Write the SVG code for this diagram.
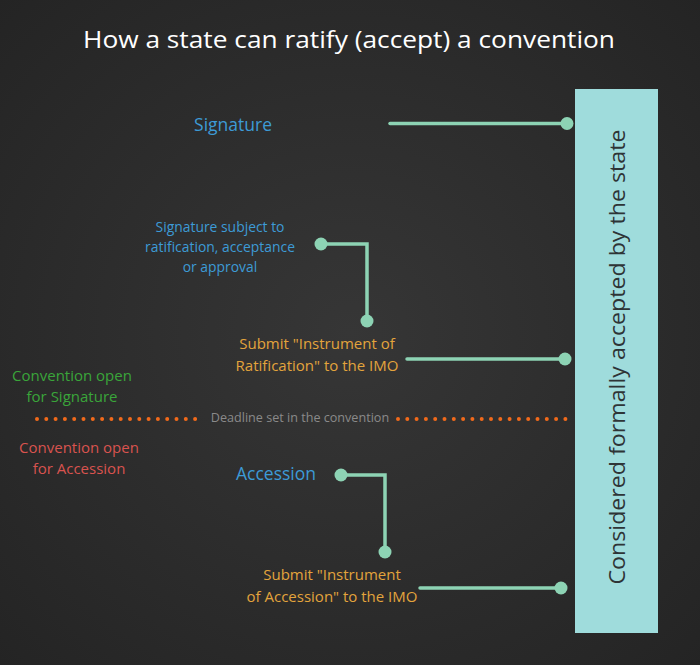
<svg xmlns="http://www.w3.org/2000/svg" width="700" height="665" viewBox="0 0 700 665">
<defs>
<radialGradient id="bg" cx="50%" cy="50%" r="75%">
<stop offset="0" stop-color="#363636"/>
<stop offset="1" stop-color="#232323"/>
</radialGradient>
<style>
text{font-family:"Open Sans","Liberation Sans",sans-serif;text-anchor:middle}
.title{font-size:24px;fill:#ffffff}
.blue{fill:#3d9bd6}
.orange{fill:#e3a43c}
.green{fill:#3aa53a}
.red{fill:#d9534f}
.grey{fill:#8a8a8a;font-size:12.6px}
.conn{stroke:#8dd3b4;stroke-width:3.5;fill:none;stroke-linecap:round}
.dot{fill:#8dd3b4}
.dl{stroke:#f26a1b;stroke-width:4;stroke-linecap:round;stroke-dasharray:0 9.3;fill:none}
</style>
</defs>
<rect width="700" height="665" fill="url(#bg)"/>
<text class="title" x="349" y="48" textLength="532" lengthAdjust="spacingAndGlyphs">How a state can ratify (accept) a convention</text>

<g id="accepted">
<rect x="575" y="89" width="83" height="544" fill="#9fdcdc"/>
<text x="0" y="0" transform="translate(625 357) rotate(-90)" style="font-size:22px;fill:#2e3436" textLength="455" lengthAdjust="spacingAndGlyphs">Considered formally accepted by the state</text>
</g>

<g id="signature"><text class="blue" x="233" y="131" style="font-size:17.5px">Signature</text></g>
<g id="sig-subject"><text class="blue" style="font-size:13.9px"><tspan x="220" y="232">Signature subject to</tspan><tspan x="220" y="252">ratification, acceptance</tspan><tspan x="220" y="272">or approval</tspan></text></g>
<g id="submit-ratification"><text class="orange" style="font-size:15px"><tspan x="317" y="349">Submit "Instrument of</tspan><tspan x="317" y="371">Ratification" to the IMO</tspan></text></g>
<g id="open-signature"><text class="green" style="font-size:15px"><tspan x="72" y="381">Convention open</tspan><tspan x="72" y="402">for Signature</tspan></text></g>
<g id="deadline"><text class="grey" x="300" y="422">Deadline set in the convention</text></g>
<g id="open-accession"><text class="red" style="font-size:15px"><tspan x="79" y="453">Convention open</tspan><tspan x="79" y="474">for Accession</tspan></text></g>
<g id="accession"><text class="blue" x="276" y="480" style="font-size:17.5px">Accession</text></g>
<g id="submit-accession"><text class="orange" style="font-size:15px"><tspan x="332" y="580">Submit "Instrument</tspan><tspan x="332" y="602">of Accession" to the IMO</tspan></text></g>

<g id="connectors">
<path class="conn" d="M390 123.5H567"/>
<circle class="dot" cx="567" cy="123.5" r="6.5"/>
<path class="conn" d="M321 244H367V321"/>
<circle class="dot" cx="321" cy="244" r="6.5"/>
<circle class="dot" cx="367" cy="321" r="6.5"/>
<path class="conn" d="M407 359H565"/>
<circle class="dot" cx="565" cy="359" r="6.5"/>
<path class="conn" d="M341 475H385V552"/>
<circle class="dot" cx="341" cy="475" r="6.5"/>
<circle class="dot" cx="385" cy="552" r="6.5"/>
<path class="conn" d="M420 588H561"/>
<circle class="dot" cx="561" cy="588" r="6.5"/>
<path class="dl" d="M37 419H204"/>
<path class="dl" d="M398 419H567"/>
</g>
</svg>
